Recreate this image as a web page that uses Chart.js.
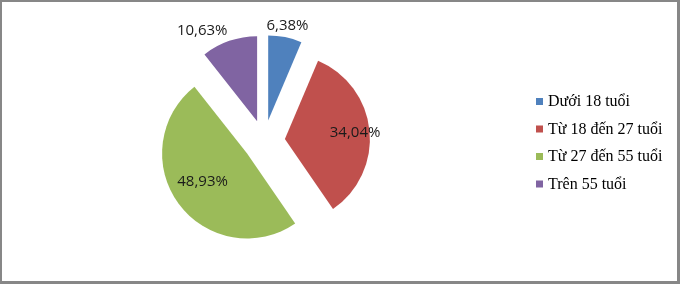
<!DOCTYPE html>
<html><head><meta charset="utf-8">
<script src="https://cdn.jsdelivr.net/npm/chart.js@4/dist/chart.umd.min.js"></script>
<style>html,body{margin:0;padding:0;background:#fff}#wrap{width:680px;height:284px;position:relative}canvas{display:block}</style>
</head><body><div id="wrap"><canvas id="c" width="680" height="284"></canvas></div>
<script>
const categories = ['Dưới 18 tuổi', 'Từ 18 đến 27 tuổi', 'Từ 27 đến 55 tuổi', 'Trên 55 tuổi'];
const values = [6.38, 34.04, 48.93, 10.63];
const colors = ['#4F81BD', '#C0504D', '#9BBB59', '#8064A2'];

// styling (not data)
const explode = 21;
const labelRadius = [1.14, 0.83, 0.62, 1.25];
const labelAngleShift = [0, 0, 4, -12];

const fmt = v => v.toFixed(2).replace('.', ',') + '%';

const framePlugin = {
  id: 'frame',
  beforeDraw(chart) {
    const ctx = chart.ctx;
    ctx.save();
    ctx.fillStyle = '#fff';
    ctx.fillRect(0, 0, chart.width, chart.height);
    ctx.restore();
  },
  afterDraw(chart) {
    const ctx = chart.ctx, w = chart.width, h = chart.height;
    ctx.save();
    ctx.fillStyle = '#878787';
    ctx.fillRect(0, 0, w, 2);
    ctx.fillRect(0, 0, 2, h);
    ctx.fillRect(w - 3, 0, 3, h);
    ctx.fillRect(0, h - 3, w, 3);
    ctx.restore();
  }
};

const explodePlugin = {
  id: 'explode',
  afterDatasetsUpdate(chart) {
    const meta = chart.getDatasetMeta(0);
    meta.data.forEach(arc => {
      const a = (arc.startAngle + arc.endAngle) / 2;
      arc.x += Math.cos(a) * explode;
      arc.y += Math.sin(a) * explode;
    });
  }
};

const labelPlugin = {
  id: 'sliceLabels',
  afterDatasetsDraw(chart) {
    const ctx = chart.ctx;
    const meta = chart.getDatasetMeta(0);
    const ds = chart.data.datasets[0];
    ctx.save();
    ctx.font = '15px "Open Sans"';
    ctx.fillStyle = '#1a1a1a';
    ctx.textAlign = 'center';
    ctx.textBaseline = 'middle';
    meta.data.forEach((arc, i) => {
      const a = (arc.startAngle + arc.endAngle) / 2 + labelAngleShift[i] * Math.PI / 180;
      const r = arc.outerRadius * labelRadius[i];
      ctx.fillText(fmt(ds.data[i]), arc.x + Math.cos(a) * r, arc.y + Math.sin(a) * r + 0.5);
    });
    ctx.restore();
  }
};

const legendPlugin = {
  id: 'sideLegend',
  afterDraw(chart) {
    const ctx = chart.ctx;
    const labels = chart.data.labels;
    const bg = chart.data.datasets[0].backgroundColor;
    ctx.save();
    ctx.font = '16px "Liberation Serif"';
    ctx.textBaseline = 'middle';
    ctx.textAlign = 'left';
    labels.forEach((t, i) => {
      const y = 101.5 + i * 27.5;
      ctx.fillStyle = bg[i];
      ctx.fillRect(536, y - 3.5, 7, 7);
      ctx.fillStyle = '#000';
      ctx.fillText(t, 548, y + 0.5);
    });
    ctx.restore();
  }
};

new Chart(document.getElementById('c'), {
  type: 'pie',
  data: {
    labels: categories,
    datasets: [{
      data: values,
      backgroundColor: colors,
      borderWidth: 0
    }]
  },
  options: {
    responsive: false,
    animation: false,
    radius: 85,
    layout: { padding: { left: 0, right: 152, top: 0, bottom: 2 } },
    plugins: { legend: { display: false }, tooltip: { enabled: false } },
    events: []
  },
  plugins: [framePlugin, explodePlugin, labelPlugin, legendPlugin]
});
</script>
</body></html>
